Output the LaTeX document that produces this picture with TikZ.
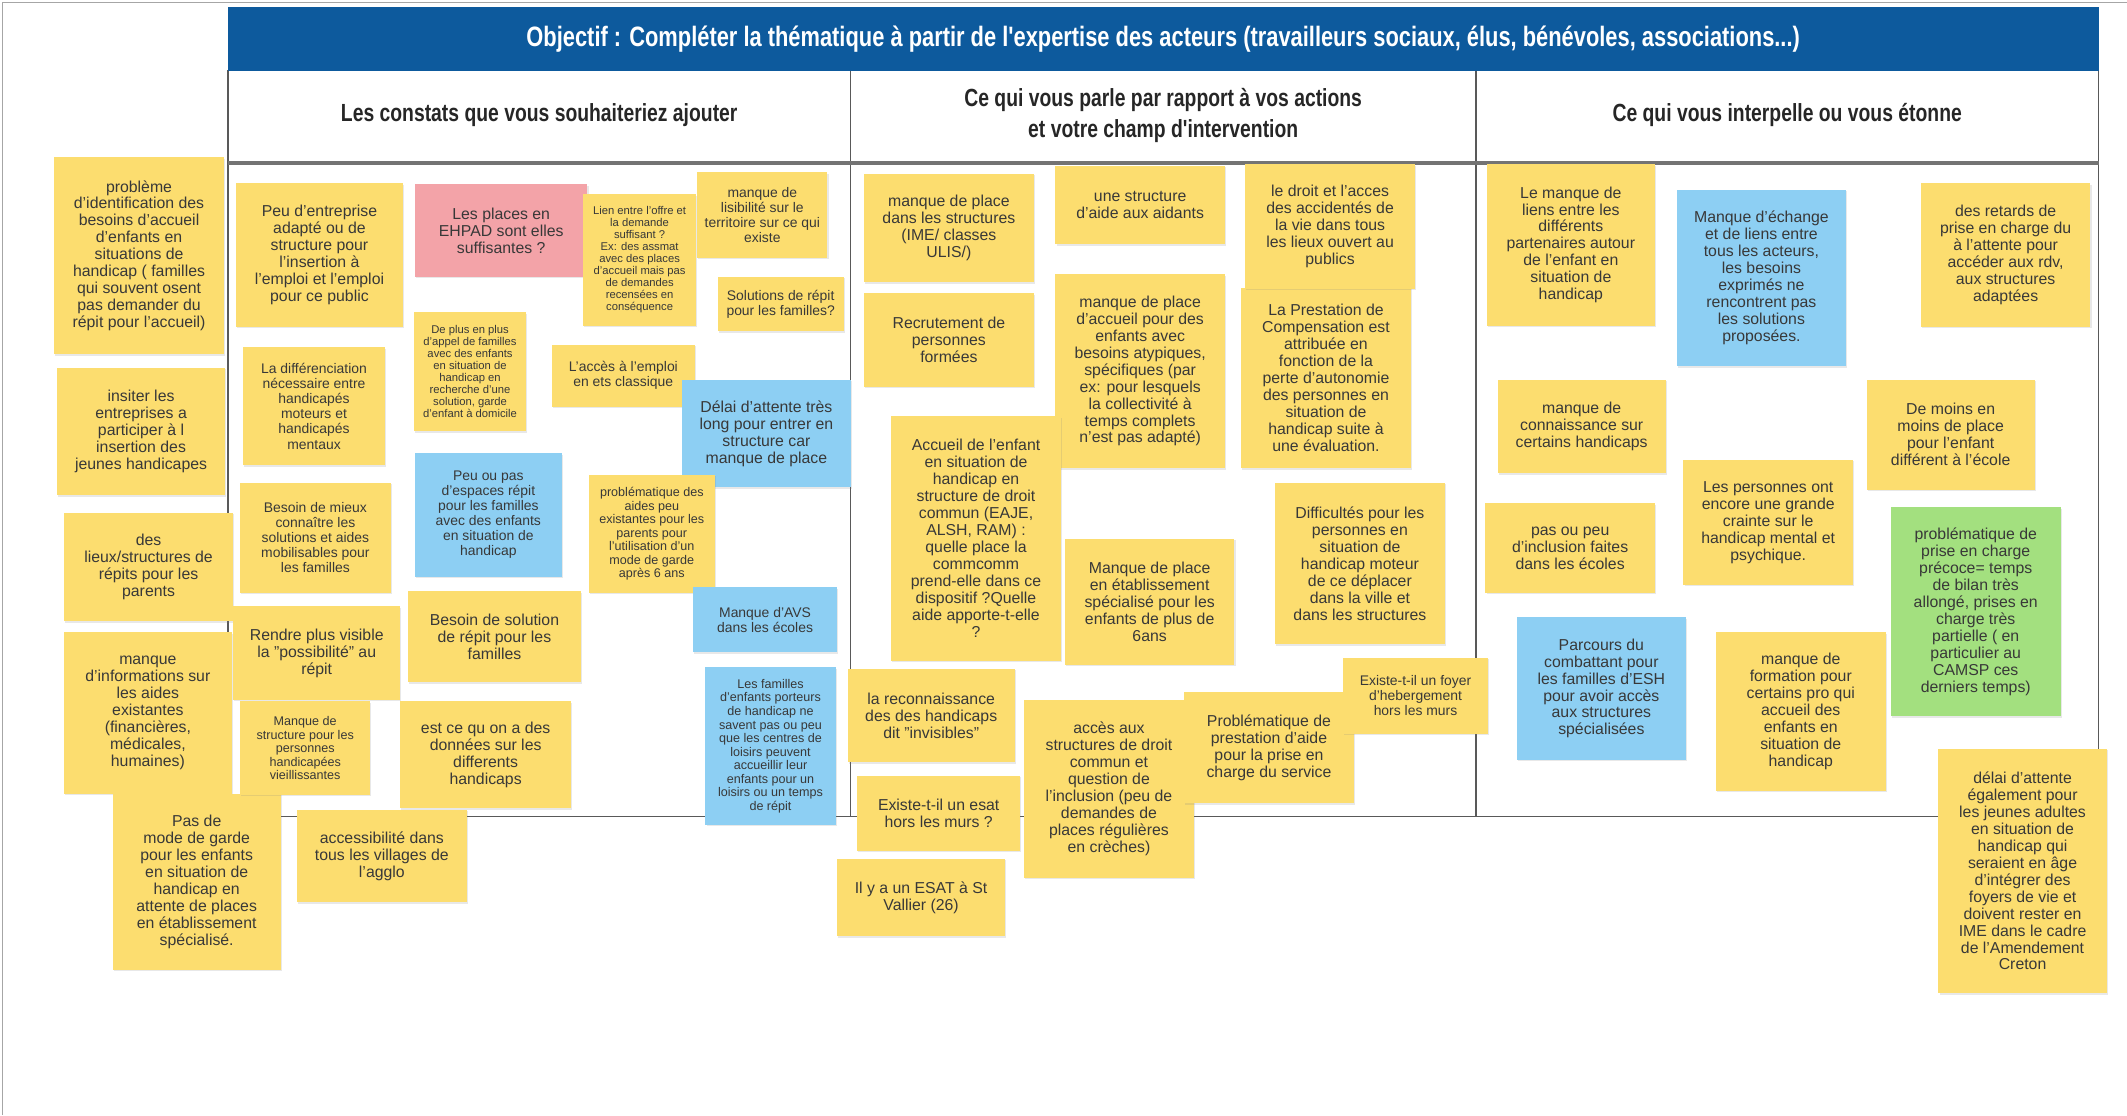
\documentclass[tikz,border=0pt]{standalone}
\usepackage{fontspec}
\setmainfont{Liberation Sans}
\newfontfamily\condfont[FakeStretch=0.78]{Liberation Sans}
\usetikzlibrary{shadows}

\definecolor{postjaune}{HTML}{FCDD6F}
\definecolor{postbleu}{HTML}{8DCFF3}
\definecolor{postrose}{HTML}{F3A3A8}
\definecolor{postvert}{HTML}{A3E07F}
\definecolor{bandeau}{HTML}{0D5A9D}

\newcommand\fL{\fontsize{8.3}{8.9}\selectfont}
\newcommand\fM{\fontsize{7.3}{7.9}\selectfont}
\newcommand\fS{\fontsize{6.6}{7.1}\selectfont}
\newcommand\fT{\fontsize{5.9}{6.3}\selectfont}
\newcommand\hfont{\condfont\bfseries\fontsize{13}{16.4}\selectfont}

\tikzset{
  note/.style={rectangle, inner sep=1pt, align=center, text=black!78,
    drop shadow={shadow xshift=0.6pt, shadow yshift=-0.8pt, opacity=0.18}},
  tableline/.style={draw=black!65, line width=0.7pt},
}

% post-it: name, x1, y1, x2, y2, colour, font, text
\newcommand\postit[8]{%
  \pgfmathsetmacro\pw{(#4-#2)*0.25}%
  \pgfmathsetmacro\ph{(#5-#3)*0.25}%
  \node[note, fill=#6, font=#7, minimum width=\pw mm, minimum height=\ph mm]
    (#1) at ({(#2+#4)/2},{(#3+#5)/2}) {#8};
}

\begin{document}
\begin{tikzpicture}[x=0.25mm, y=-0.25mm]
  \useasboundingbox (0,0) rectangle (1568,822);
  \draw[black!35, line width=0.5pt] (1.5,822) -- (1.5,1.5) -- (1568,1.5);

  % tableau
  \draw[tableline] (168,52) rectangle (1547,602);
  \foreach \x in {627,1088}
    \draw[tableline] (\x,52) -- (\x,602);
  \draw[black!55, line width=1.8pt] (168,120) -- (1547,120);

  \node[fill=bandeau, minimum width=344.75mm, minimum height=11.75mm, inner sep=0pt,
    text=white, font=\condfont\bfseries\fontsize{14.7}{17}\selectfont] (objectif) at (857.5,28.5)
    {Objectif : Compléter la thématique à partir de l'expertise des acteurs (travailleurs sociaux, élus, bénévoles, associations...)};
  \node[font=\hfont, text=black!85] (constats) at (397.5,85) {Les constats que vous souhaiteriez ajouter};
  \node[font=\hfont, text=black!85, align=center] (actions) at (857.5,85)
    {Ce qui vous parle par rapport à vos actions\\et votre champ d'intervention};
  \node[font=\hfont, text=black!85] (etonne) at (1317.5,85) {Ce qui vous interpelle ou vous étonne};

  % hors tableau, a gauche
  \postit{p1}{40}{116}{165}{261}{postjaune}{\fL}{problème\\d'identification des\\besoins d'accueil\\d'enfants en\\situations de\\handicap ( familles\\qui souvent osent\\pas demander du\\répit pour l'accueil)}
  \postit{p2}{42}{271}{166}{365}{postjaune}{\fL}{insiter les\\entreprises a\\participer à l\\insertion des\\jeunes handicapes}
  \postit{p3}{47}{378}{172}{458}{postjaune}{\fL}{des\\lieux/structures de\\répits pour les\\parents}
  \postit{p4}{47}{466}{171}{585}{postjaune}{\fL}{manque\\d'informations sur\\les aides\\existantes\\(financières,\\médicales,\\humaines)}
  \postit{p5}{83}{585}{207}{715}{postjaune}{\fL}{Pas de\\mode de garde\\pour les enfants\\en situation de\\handicap en\\attente de places\\en établissement\\spécialisé.}
  \postit{p6}{219}{597}{344}{665}{postjaune}{\fL}{accessibilité dans\\tous les villages de\\l'agglo}

  % les constats
  \postit{c1}{174}{135}{297}{241}{postjaune}{\fL}{Peu d'entreprise\\adapté ou de\\structure pour\\l'insertion à\\l'emploi et l'emploi\\pour ce public}
  \postit{c2}{306}{136}{433}{204}{postrose}{\fL}{Les places en\\EHPAD sont elles\\suffisantes ?}
  \postit{c3}{430}{143}{513}{240}{postjaune}{\fT}{Lien entre l'offre et\\la demande\\suffisant ?\\Ex: des assmat\\avec des places\\d'accueil mais pas\\de demandes\\recensées en\\conséquence}
  \postit{c4}{514}{127}{610}{190}{postjaune}{\fM}{manque de\\lisibilité sur le\\territoire sur ce qui\\existe}
  \postit{c5}{529}{204}{622}{244}{postjaune}{\fM}{Solutions de répit\\pour les familles?}
  \postit{c6}{179}{256}{284}{343}{postjaune}{\fM}{La différenciation\\nécessaire entre\\handicapés\\moteurs et\\handicapés\\mentaux}
  \postit{c7}{305}{230}{388}{318}{postjaune}{\fT}{De plus en plus\\d'appel de familles\\avec des enfants\\en situation de\\handicap en\\recherche d'une\\solution, garde\\d'enfant à domicile}
  \postit{c8}{407}{254}{512}{300}{postjaune}{\fM}{L'accès à l'emploi\\en ets classique}
  \postit{c9}{503}{280}{627}{359}{postbleu}{\fL}{Délai d'attente très\\long pour entrer en\\structure car\\manque de place}
  \postit{c10}{306}{334}{414}{425}{postbleu}{\fM}{Peu ou pas\\d'espaces répit\\pour les familles\\avec des enfants\\en situation de\\handicap}
  \postit{c11}{434}{350}{527}{437}{postjaune}{\fS}{problématique des\\aides peu\\existantes pour les\\parents pour\\l'utilisation d'un\\mode de garde\\après 6 ans}
  \postit{c12}{177}{356}{288}{437}{postjaune}{\fM}{Besoin de mieux\\connaître les\\solutions et aides\\mobilisables pour\\les familles}
  \postit{c13}{172}{447}{295}{516}{postjaune}{\fL}{Rendre plus visible\\la "possibilité" au\\répit}
  \postit{c14}{301}{436}{428}{503}{postjaune}{\fL}{Besoin de solution\\de répit pour les\\familles}
  \postit{c15}{511}{433}{617}{481}{postbleu}{\fM}{Manque d'AVS\\dans les écoles}
  \postit{c16}{520}{492}{616}{608}{postbleu}{\fS}{Les familles\\d'enfants porteurs\\de handicap ne\\savent pas ou peu\\que les centres de\\loisirs peuvent\\accueillir leur\\enfants pour un\\loisirs ou un temps\\de répit}
  \postit{c17}{177}{517}{273}{586}{postjaune}{\fS}{Manque de\\structure pour les\\personnes\\handicapées\\vieillissantes}
  \postit{c18}{295}{517}{421}{596}{postjaune}{\fL}{est ce qu on a des\\données sur les\\differents\\handicaps}

  % actions et champ d'intervention
  \postit{a1}{637}{128}{762}{208}{postjaune}{\fL}{manque de place\\dans les structures\\(IME/ classes\\ULIS/)}
  \postit{a2}{778}{122}{903}{180}{postjaune}{\fL}{une structure\\d'aide aux aidants}
  \postit{a3}{915}{212}{1040}{345}{postjaune}{\fL}{La Prestation de\\Compensation est\\attribuée en\\fonction de la\\perte d'autonomie\\des personnes en\\situation de\\handicap suite à\\une évaluation.}
  \postit{a4}{918}{121}{1043}{213}{postjaune}{\fL}{le droit et l'acces\\des accidentés de\\la vie dans tous\\les lieux ouvert au\\publics}
  \postit{a5}{637}{216}{762}{285}{postjaune}{\fL}{Recrutement de\\personnes\\formées}
  \postit{a6}{778}{202}{903}{345}{postjaune}{\fL}{manque de place\\d'accueil pour des\\enfants avec\\besoins atypiques,\\spécifiques (par\\ex: pour lesquels\\la collectivité à\\temps complets\\n'est pas adapté)}
  \postit{a7}{657}{307}{782}{487}{postjaune}{\fL}{Accueil de l'enfant\\en situation de\\handicap en\\structure de droit\\commun (EAJE,\\ALSH, RAM) :\\quelle place la\\commcomm\\prend-elle dans ce\\dispositif ?Quelle\\aide apporte-t-elle\\?}
  \postit{a8}{785}{397}{910}{490}{postjaune}{\fL}{Manque de place\\en établissement\\spécialisé pour les\\enfants de plus de\\6ans}
  \postit{a9}{940}{356}{1065}{475}{postjaune}{\fL}{Difficultés pour les\\personnes en\\situation de\\handicap moteur\\de ce déplacer\\dans la ville et\\dans les structures}
  \postit{a10}{625}{493}{748}{562}{postjaune}{\fL}{la reconnaissance\\des des handicaps\\dit "invisibles"}
  \postit{a11}{632}{572}{752}{627}{postjaune}{\fL}{Existe-t-il un esat\\hors les murs ?}
  \postit{a12}{755}{516}{880}{647}{postjaune}{\fL}{accès aux\\structures de droit\\commun et\\question de\\l'inclusion (peu de\\demandes de\\places régulières\\en crèches)}
  \postit{a13}{873}{510}{998}{592}{postjaune}{\fL}{Problématique de\\prestation d'aide\\pour la prise en\\charge du service}
  \postit{a14}{990}{485}{1097}{541}{postjaune}{\fM}{Existe-t-il un foyer\\d'hebergement\\hors les murs}
  \postit{a15}{617}{633}{741}{690}{postjaune}{\fL}{Il y a un ESAT à St\\Vallier (26)}

  % ce qui interpelle
  \postit{e1}{1096}{121}{1220}{240}{postjaune}{\fL}{Le manque de\\liens entre les\\différents\\partenaires autour\\de l'enfant en\\situation de\\handicap}
  \postit{e2}{1236}{140}{1361}{270}{postbleu}{\fL}{Manque d'échange\\et de liens entre\\tous les acteurs,\\les besoins\\exprimés ne\\rencontrent pas\\les solutions\\proposées.}
  \postit{e3}{1416}{135}{1541}{241}{postjaune}{\fL}{des retards de\\prise en charge du\\à l'attente pour\\accéder aux rdv,\\aux structures\\adaptées}
  \postit{e4}{1104}{280}{1228}{349}{postjaune}{\fL}{manque de\\connaissance sur\\certains handicaps}
  \postit{e5}{1376}{280}{1500}{361}{postjaune}{\fL}{De moins en\\moins de place\\pour l'enfant\\différent à l'école}
  \postit{e6}{1241}{339}{1366}{431}{postjaune}{\fL}{Les personnes ont\\encore une grande\\crainte sur le\\handicap mental et\\psychique.}
  \postit{e7}{1095}{371}{1220}{437}{postjaune}{\fL}{pas ou peu\\d'inclusion faites\\dans les écoles}
  \postit{e8}{1394}{374}{1519}{528}{postvert}{\fL}{problématique de\\prise en charge\\précoce= temps\\de bilan très\\allongé, prises en\\charge très\\partielle ( en\\particulier au\\CAMSP ces\\derniers temps)}
  \postit{e9}{1118}{455}{1243}{560}{postbleu}{\fL}{Parcours du\\combattant pour\\les familles d'ESH\\pour avoir accès\\aux structures\\spécialisées}
  \postit{e10}{1265}{466}{1390}{583}{postjaune}{\fL}{manque de\\formation pour\\certains pro qui\\accueil des\\enfants en\\situation de\\handicap}
  \postit{e11}{1429}{552}{1553}{732}{postjaune}{\fL}{délai d'attente\\également pour\\les jeunes adultes\\en situation de\\handicap qui\\seraient en âge\\d'intégrer des\\foyers de vie et\\doivent rester en\\IME dans le cadre\\de l'Amendement\\Creton}
\end{tikzpicture}
\end{document}
